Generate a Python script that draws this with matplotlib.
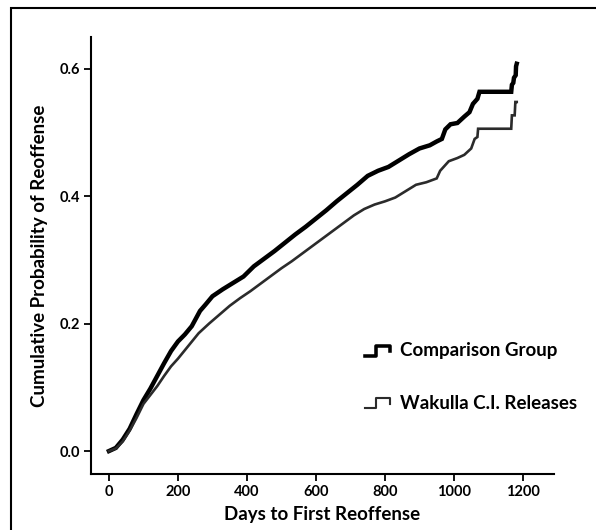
import matplotlib
matplotlib.use("Agg")
import matplotlib.pyplot as plt
from matplotlib.legend_handler import HandlerBase
from matplotlib.lines import Line2D
from matplotlib.patches import Rectangle

plt.rcParams["font.family"] = ["Lato", "DejaVu Sans"]
plt.rcParams["font.weight"] = "bold"

# Comparison group; repeated days = vertical jumps
comp_days = [0, 20, 40, 60, 80, 100, 120, 140, 160, 180, 200, 220, 240, 264,
             280, 300, 330, 360, 390, 420, 450, 480, 510, 540, 570, 600, 630,
             660, 690, 720, 750, 780, 810, 840, 870, 900, 930, 950, 965, 975,
             990, 1010, 1030, 1045, 1055, 1068, 1074, 1166, 1168, 1172, 1174,
             1179, 1180, 1182]
comp_prob = [0.0, 0.005, 0.018, 0.035, 0.058, 0.080, 0.098, 0.118, 0.138,
             0.157, 0.172, 0.183, 0.196, 0.220, 0.230, 0.243, 0.254, 0.264,
             0.274, 0.290, 0.302, 0.314, 0.327, 0.340, 0.352, 0.365, 0.378,
             0.392, 0.405, 0.418, 0.432, 0.440, 0.446, 0.456, 0.466, 0.475,
             0.480, 0.486, 0.490, 0.505, 0.513, 0.515, 0.525, 0.532, 0.545,
             0.553, 0.564, 0.564, 0.575, 0.578, 0.586, 0.590, 0.604, 0.608]

# Wakulla C.I. releases
wak_days = [0, 20, 40, 60, 80, 100, 120, 140, 160, 180, 200, 230, 260, 290,
            320, 350, 380, 410, 440, 470, 500, 530, 560, 590, 620, 650, 680,
            710, 740, 770, 800, 830, 860, 890, 920, 950, 960, 985, 1010, 1030,
            1050, 1060, 1068, 1070, 1166, 1168, 1176, 1178, 1182]
wak_prob = [0.0, 0.004, 0.015, 0.032, 0.052, 0.074, 0.088, 0.102, 0.118,
            0.133, 0.145, 0.165, 0.185, 0.200, 0.214, 0.228, 0.240, 0.251,
            0.263, 0.275, 0.287, 0.298, 0.310, 0.322, 0.334, 0.346, 0.358,
            0.370, 0.380, 0.387, 0.392, 0.398, 0.408, 0.418, 0.422, 0.428,
            0.440, 0.455, 0.460, 0.465, 0.475, 0.490, 0.493, 0.506, 0.506,
            0.527, 0.527, 0.548, 0.548]

x_ticks = [0, 200, 400, 600, 800, 1000, 1200]
y_ticks = [0.0, 0.2, 0.4, 0.6]


class StepHandler(HandlerBase):
    # little step glyph like the SPSS legend
    def create_artists(self, legend, orig_handle, xdescent, ydescent,
                       width, height, fontsize, trans):
        w, h = width, height
        xs = [0, 0.45 * w, 0.45 * w, w, w]
        ys = [0.05 * h, 0.05 * h, 0.8 * h, 0.8 * h, 0.4 * h]
        ln = Line2D(xs, ys, color=orig_handle.get_color(),
                    linewidth=orig_handle.get_linewidth() * 0.8,
                    transform=trans)
        return [ln]


fig = plt.figure(figsize=(5.96, 5.30), dpi=100)
fig.patches.append(Rectangle((11 / 596, -0.1), 1.2, 1.1 - 8 / 530,
                             transform=fig.transFigure, fill=False,
                             edgecolor="black", linewidth=1.5))
ax = fig.add_axes([91 / 596, 1 - 474 / 530, (554 - 91) / 596, (474 - 37) / 530])

l1, = ax.plot(comp_days, comp_prob, color="black", linewidth=3.2,
              solid_joinstyle="miter", label="Comparison Group")
l2, = ax.plot(wak_days, wak_prob, color="#2b2b2b", linewidth=1.9,
              solid_joinstyle="miter", label="Wakulla C.I. Releases")

ax.set_xlim(-52, 1290)
ax.set_ylim(-0.036, 0.650)
ax.set_xticks(x_ticks)
ax.set_yticks(y_ticks)
ax.set_yticklabels([f"{v:.1f}" for v in y_ticks])
ax.tick_params(direction="out", length=5, width=1.3, labelsize=10.5, pad=3)
for s in ("top", "right"):
    ax.spines[s].set_visible(False)
for s in ("left", "bottom"):
    ax.spines[s].set_linewidth(1.5)

ax.set_xlabel("Days to First Reoffense", fontsize=13.5, fontweight="bold",
              labelpad=5)
ax.set_ylabel("Cumulative Probability of Reoffense", fontsize=13.5,
              fontweight="bold", labelpad=8)

ax.legend(handles=[l1, l2], handler_map={l1: StepHandler(), l2: StepHandler()},
          loc="center left", bbox_to_anchor=(0.555, 0.222), frameon=False,
          fontsize=13.5, handlelength=1.35, labelspacing=1.9,
          handletextpad=0.5)

fig.savefig("out.png", dpi=100)
